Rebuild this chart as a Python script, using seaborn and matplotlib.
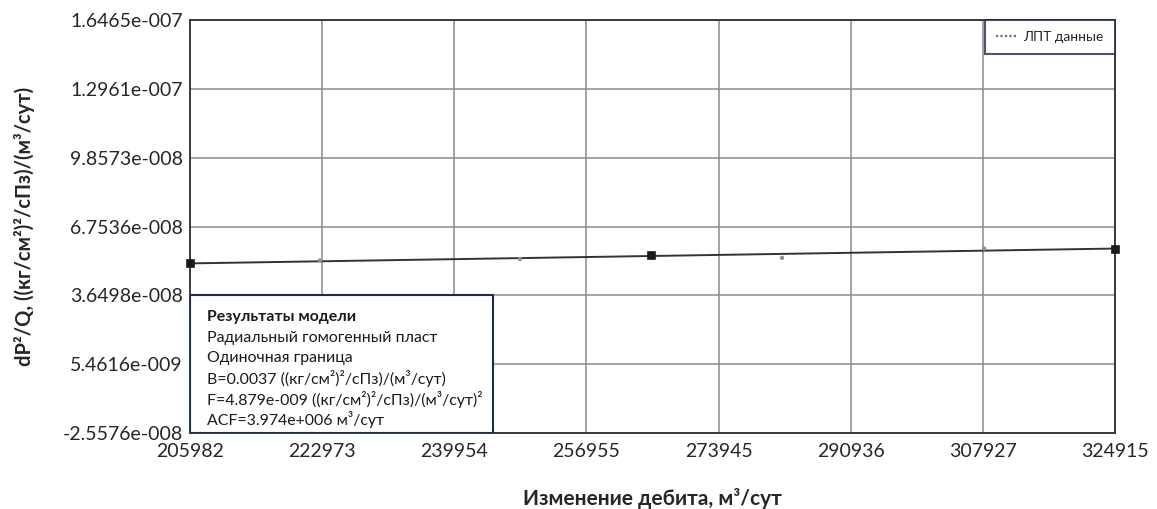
import matplotlib
matplotlib.use("Agg")
import matplotlib.pyplot as plt
from matplotlib.lines import Line2D
import seaborn as sns
import numpy as np
import pandas as pd

# --- data ---
q_ticks = [205982, 222973, 239954, 256955, 273945, 290936, 307927, 324915]
y_tick_labels = ["-2.5576e-008", "5.4616e-009", "3.6498e-008", "6.7536e-008",
                 "9.8573e-008", "1.2961e-007", "1.6465e-007"]
y_min, y_max = -2.5576e-8, 1.6065e-7

data_q = [205982, 222700, 248400, 265250, 282100, 308100, 324915]
data_dp = [5.09e-8, 5.22e-8, 5.29e-8, 5.45e-8, 5.34e-8, 5.76e-8, 5.75e-8]
picked_q = [205982, 265250, 324915]
picked_dp = [5.09e-8, 5.45e-8, 5.75e-8]
model_q = [205982, 324915]
model_dp = [5.09e-8, 5.76e-8]

results = ["Результаты модели",
           "Радиальный гомогенный пласт",
           "Одиночная граница",
           "B=0.0037 ((кг/см²)²/сПз)/(м³/сут)",
           "F=4.879e-009 ((кг/см²)²/сПз)/(м³/сут)²",
           "ACF=3.974e+006 м³/сут"]

sns.set_style("white")
plt.rcParams["font.family"] = ["Lato", "DejaVu Sans"]

fig = plt.figure(figsize=(11.57, 5.09), dpi=100)
ax = fig.add_axes([0.1642, 0.1493, 0.7995, 0.8114])

df_model = pd.DataFrame({"q": model_q, "dp": model_dp})
df_data = pd.DataFrame({"q": data_q, "dp": data_dp})
df_pick = pd.DataFrame({"q": picked_q, "dp": picked_dp})

sns.lineplot(data=df_model, x="q", y="dp", ax=ax, color="#333333", lw=1.4, zorder=3)
sns.scatterplot(data=df_data, x="q", y="dp", ax=ax, color="#909090", s=10,
                marker="o", edgecolor="none", zorder=4)
sns.scatterplot(data=df_pick, x="q", y="dp", ax=ax, color="#1a1a1a", s=35,
                marker="s", edgecolor="#1a1a1a", zorder=5, clip_on=False)

ax.set_xlim(q_ticks[0], q_ticks[-1])
ax.set_ylim(y_min, y_max)
xt = np.linspace(q_ticks[0], q_ticks[-1], len(q_ticks))
yt = np.linspace(y_min, y_max, len(y_tick_labels))
ax.set_xticks(xt)
ax.set_xticklabels([str(v) for v in q_ticks], fontsize=14)
ax.set_yticks(yt)
ax.set_yticklabels(y_tick_labels, fontsize=14)
ax.tick_params(axis="both", length=4, width=1, color="#555555", pad=1, direction="out")
ax.tick_params(axis="x", pad=3)

ax.grid(True, color="#8a8a8a", lw=1.1)
for side, sp in ax.spines.items():
    sp.set_color("#3a3a3a")
    sp.set_linewidth(1.4)

ax.set_xlabel("Изменение дебита, м³/сут", fontsize=15, fontweight="bold", labelpad=20)
ax.set_ylabel("dP²/Q, ((кг/см²)²/сПз)/(м³/сут)", fontsize=14.5, fontweight="bold", labelpad=20)

handle = Line2D([], [], color="#707070", lw=1.6, ls=(0, (1, 1)))
leg = ax.legend([handle], ["ЛПТ данные"], loc="upper right", fontsize=10,
                frameon=True, fancybox=False, borderaxespad=0, handlelength=1.5,
                borderpad=0.8, handletextpad=0.5)
leg.get_frame().set_edgecolor("#1f2b4d")
leg.get_frame().set_linewidth(1.5)

# results box
box = plt.Rectangle((0, 0), 0.3276, 0.334, transform=ax.transAxes, facecolor="white",
                    edgecolor="#1f2b4d", lw=1.5, zorder=6)
ax.add_patch(box)
for i, line in enumerate(results):
    ax.text(0.0185, 0.28 - i * 0.0495, line, transform=ax.transAxes, fontsize=11.4,
            fontweight="bold" if i == 0 else "normal", color="#1a1a1a",
            va="center", ha="left", zorder=7)

fig.savefig("out.png", dpi=100)
